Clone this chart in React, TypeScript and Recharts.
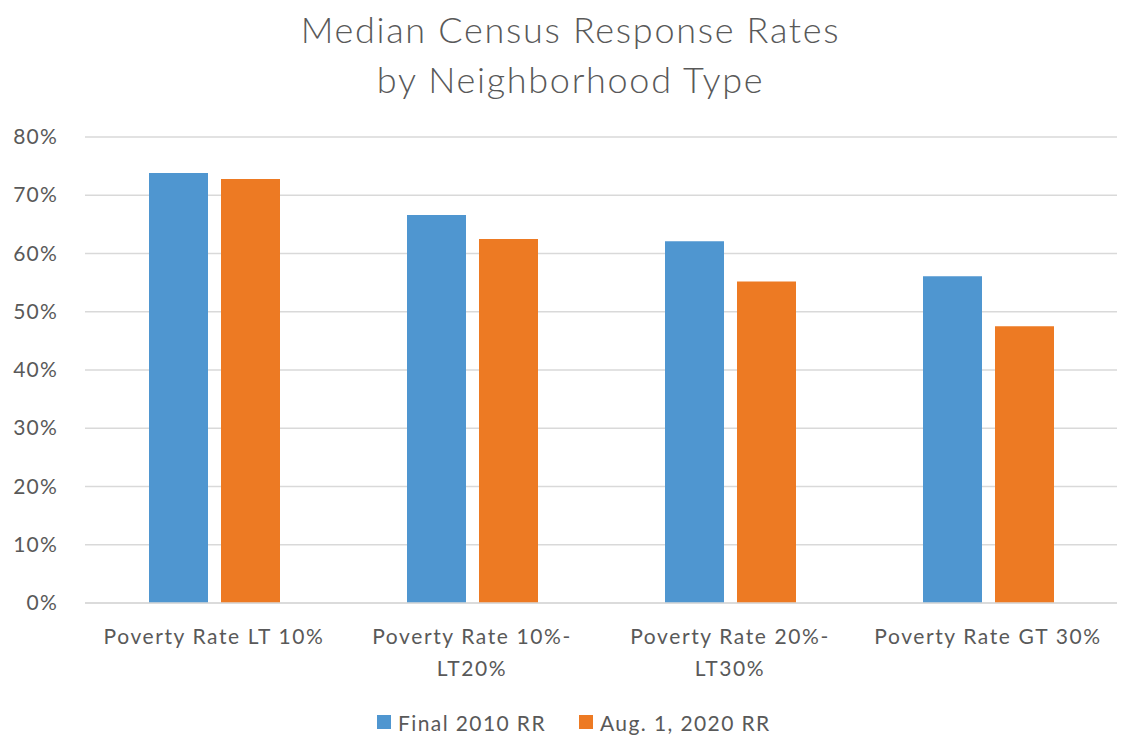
import React from "react";
import { BarChart, Bar, XAxis, YAxis, CartesianGrid, Legend } from "recharts";

const categories = [
  "Poverty Rate LT 10%",
  "Poverty Rate 10%-LT20%",
  "Poverty Rate 20%-LT30%",
  "Poverty Rate GT 30%",
];
const categoryLines: string[][] = [
  ["Poverty Rate LT 10%"],
  ["Poverty Rate 10%-", "LT20%"],
  ["Poverty Rate 20%-", "LT30%"],
  ["Poverty Rate GT 30%"],
];
const final2010 = [73.8, 66.6, 62.1, 56.1];
const aug2020 = [72.8, 62.5, 55.2, 47.5];
const yTicks = [0, 10, 20, 30, 40, 50, 60, 70, 80];
const seriesNames = ["Final 2010 RR", "Aug. 1, 2020 RR"];
const colors = ["#4F96D0", "#ED7A23"];

const data = categories.map((c, i) => ({
  name: c,
  a: final2010[i],
  b: aug2020[i],
}));

const FONT = "Lato, 'Open Sans', sans-serif";
const TEXT = "#595959";

const CatTick = (props: any) => {
  const { x, y, index } = props;
  const lines = categoryLines[index] || [];
  return (
    <text
      x={x}
      y={y}
      textAnchor="middle"
      fill={TEXT}
      fontSize={21}
      fontFamily={FONT}
      letterSpacing={1.6}
    >
      {lines.map((l, i) => (
        <tspan key={i} x={x} dy={i === 0 ? 33 : 32}>
          {l}
        </tspan>
      ))}
    </text>
  );
};

const YTick = (props: any) => {
  const { x, y, payload } = props;
  return (
    <text
      x={x}
      y={y}
      dy={7}
      textAnchor="end"
      fill={TEXT}
      fontSize={21}
      fontFamily={FONT}
      letterSpacing={1.2}
    >
      {`${payload.value}%`}
    </text>
  );
};

const LegendContent = () => (
  <div
    style={{
      display: "flex",
      alignItems: "center",
      marginLeft: 377,
      fontFamily: FONT,
      fontSize: 21,
      letterSpacing: 1.4,
      color: TEXT,
      height: 30,
    }}
  >
    {seriesNames.map((n, i) => (
      <div
        key={n}
        style={{ display: "flex", alignItems: "center", marginRight: 33 }}
      >
        <span
          style={{
            width: 14,
            height: 14,
            background: colors[i],
            display: "inline-block",
            marginRight: 7,
          }}
        />
        <span>{n}</span>
      </div>
    ))}
  </div>
);

export default function App() {
  return (
    <div
      style={{
        position: "absolute",
        left: 0,
        top: 0,
        width: 1121,
        height: 740,
        background: "#fff",
      }}
    >
      <div
        style={{
          position: "absolute",
          left: 0,
          top: 4,
          width: 1141,
          textAlign: "center",
          fontFamily: FONT,
          fontSize: 36,
          fontWeight: 300,
          letterSpacing: 1.7,
          lineHeight: "50px",
          color: TEXT,
        }}
      >
        <div>Median Census Response Rates</div>
        <div>by Neighborhood Type</div>
      </div>
      <BarChart
        width={1121}
        height={740}
        data={data}
        margin={{ top: 137, right: 4, bottom: 8, left: 0 }}
        barSize={59}
        barGap={13}
      >
        <CartesianGrid
          vertical={false}
          stroke="#D9D9D9"
          strokeWidth={1.5}
        />
        <XAxis
          dataKey="name"
          tickLine={false}
          axisLine={{ stroke: "#D9D9D9", strokeWidth: 1.5 }}
          interval={0}
          height={99}
          tick={<CatTick />}
        />
        <YAxis
          domain={[0, 80]}
          ticks={yTicks}
          width={85}
          tickLine={false}
          axisLine={false}
          tickMargin={21}
          tick={<YTick />}
        />
        <Legend
          verticalAlign="bottom"
          content={<LegendContent />}
          wrapperStyle={{ left: 0, width: 1121, height: 30, bottom: 3 }}
        />
        <Bar
          dataKey="a"
          name={seriesNames[0]}
          fill={colors[0]}
          isAnimationActive={false}
        />
        <Bar
          dataKey="b"
          name={seriesNames[1]}
          fill={colors[1]}
          isAnimationActive={false}
        />
      </BarChart>
    </div>
  );
}
